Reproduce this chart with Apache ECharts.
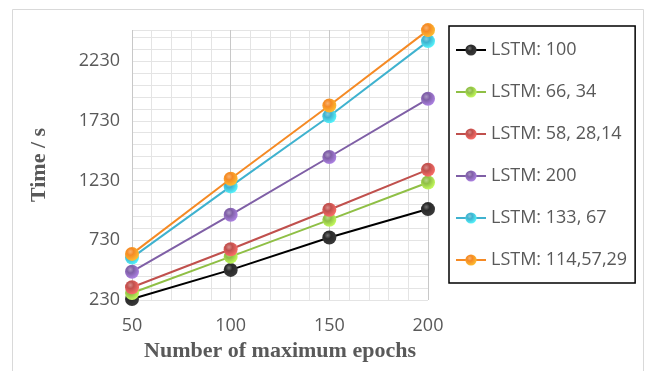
<!DOCTYPE html>
<html>
<head>
<meta charset="utf-8">
<script src="https://cdn.jsdelivr.net/npm/echarts@6/dist/echarts.min.js"></script>
<style>
	html,body{margin:0;padding:0;background:#fff;}
	#chart{width:648px;height:371px;}
</style>
</head>
<body>
<div id="chart"></div>
<script>
	// epochs on the x axis
	var epochs = [50, 100, 150, 200];
	// time in seconds
	var lstm100 = [238, 482, 753, 991];
	var lstm66_34 = [289, 593, 901, 1214];
	var lstm58_28_14 = [337, 655, 985, 1321];
	var lstm200 = [467, 943, 1427, 1914];
	var lstm133_67 = [585, 1181, 1768, 2397];
	var lstm114_57_29 = [616, 1245, 1858, 2489];
	var seriesNames = ['LSTM: 100', 'LSTM: 66, 34', 'LSTM: 58, 28,14', 'LSTM: 200', 'LSTM: 133, 67', 'LSTM: 114,57,29'];
	var seriesColors = ['#000000', '#8fbf45', '#c0504d', '#7f5fa6', '#3fb2cf', '#f58a24'];
	var yTickLabels = [230, 730, 1230, 1730, 2230];
	var xTickLabels = [50, 100, 150, 200];

	var allData = [lstm100, lstm66_34, lstm58_28_14, lstm200, lstm133_67, lstm114_57_29];

	//球形的点
	function ball(c){
		return new echarts.graphic.RadialGradient(0.38, 0.35, 0.7, [
			{offset: 0, color: echarts.color.lift(c, 0.35)},
			{offset: 0.35, color: c},
			{offset: 1, color: echarts.color.lift(c, -0.4)}
		]);
	}

	var series = allData.map(function(arr, i){
		return {
			name: seriesNames[i],
			type: 'line',
			data: arr.map(function(v, j){ return [epochs[j], v]; }),
			symbol: 'circle',
			symbolSize: 14,
			lineStyle: {color: seriesColors[i], width: 2},
			itemStyle: {color: ball(seriesColors[i] == '#000000' ? '#2a2a2a' : seriesColors[i]), borderWidth: 0},
			z: 3 + i
		};
	});

	var chart = echarts.init(document.getElementById('chart'));
	chart.setOption({
		animation: false,
		backgroundColor: '#fff',
		textStyle: {fontFamily: 'Open Sans'},
		color: seriesColors,
		graphic: [{
			type: 'rect',
			shape: {x: 12.5, y: 9.5, width: 631, height: 370},
			style: {fill: 'none', stroke: '#d9d9d9', lineWidth: 1},
			silent: true
		}],
		grid: {left: 132, right: 220, top: 30, bottom: 71},
		legend: {
			orient: 'vertical',
			left: 449,
			top: 26,
			padding: [15, 8, 14, 6],
			itemWidth: 30,
			itemHeight: 14,
			itemGap: 24,
			borderColor: '#000',
			borderWidth: 1.5,
			textStyle: {fontSize: 18, color: '#595959', fontFamily: 'Open Sans'},
			data: seriesNames
		},
		xAxis: {
			type: 'value',
			min: 50,
			max: 200,
			interval: 10,
			name: 'Number of maximum epochs',
			nameLocation: 'middle',
			nameGap: 40,
			nameTextStyle: {fontFamily: 'Liberation Serif', fontWeight: 'bold', fontSize: 22, color: '#595959'},
			axisLine: {show: false},
			axisTick: {show: false},
			axisLabel: {
				fontSize: 18,
				color: '#595959',
				margin: 17,
				formatter: function(v){ return xTickLabels.indexOf(v) >= 0 ? String(v) : ''; }
			},
			splitLine: {show: true, lineStyle: {color: ['#c8c8c8', '#e4e4e4', '#e4e4e4', '#e4e4e4', '#e4e4e4'], width: 1}}
		},
		yAxis: {
			type: 'value',
			min: 230,
			max: 2490,
			interval: 100,
			name: 'Time / s',
			nameLocation: 'middle',
			nameGap: 82,
			nameRotate: 90,
			nameTextStyle: {fontFamily: 'Liberation Serif', fontWeight: 'bold', fontSize: 22, color: '#595959'},
			axisLine: {show: false},
			axisTick: {show: false},
			axisLabel: {
				fontSize: 18,
				color: '#595959',
				margin: 12,
				formatter: function(v){ return yTickLabels.indexOf(v) >= 0 ? String(v) : ''; }
			},
			splitLine: {show: true, lineStyle: {color: '#e4e4e4', width: 1}}
		},
		series: series
	});
</script>
</body>
</html>
